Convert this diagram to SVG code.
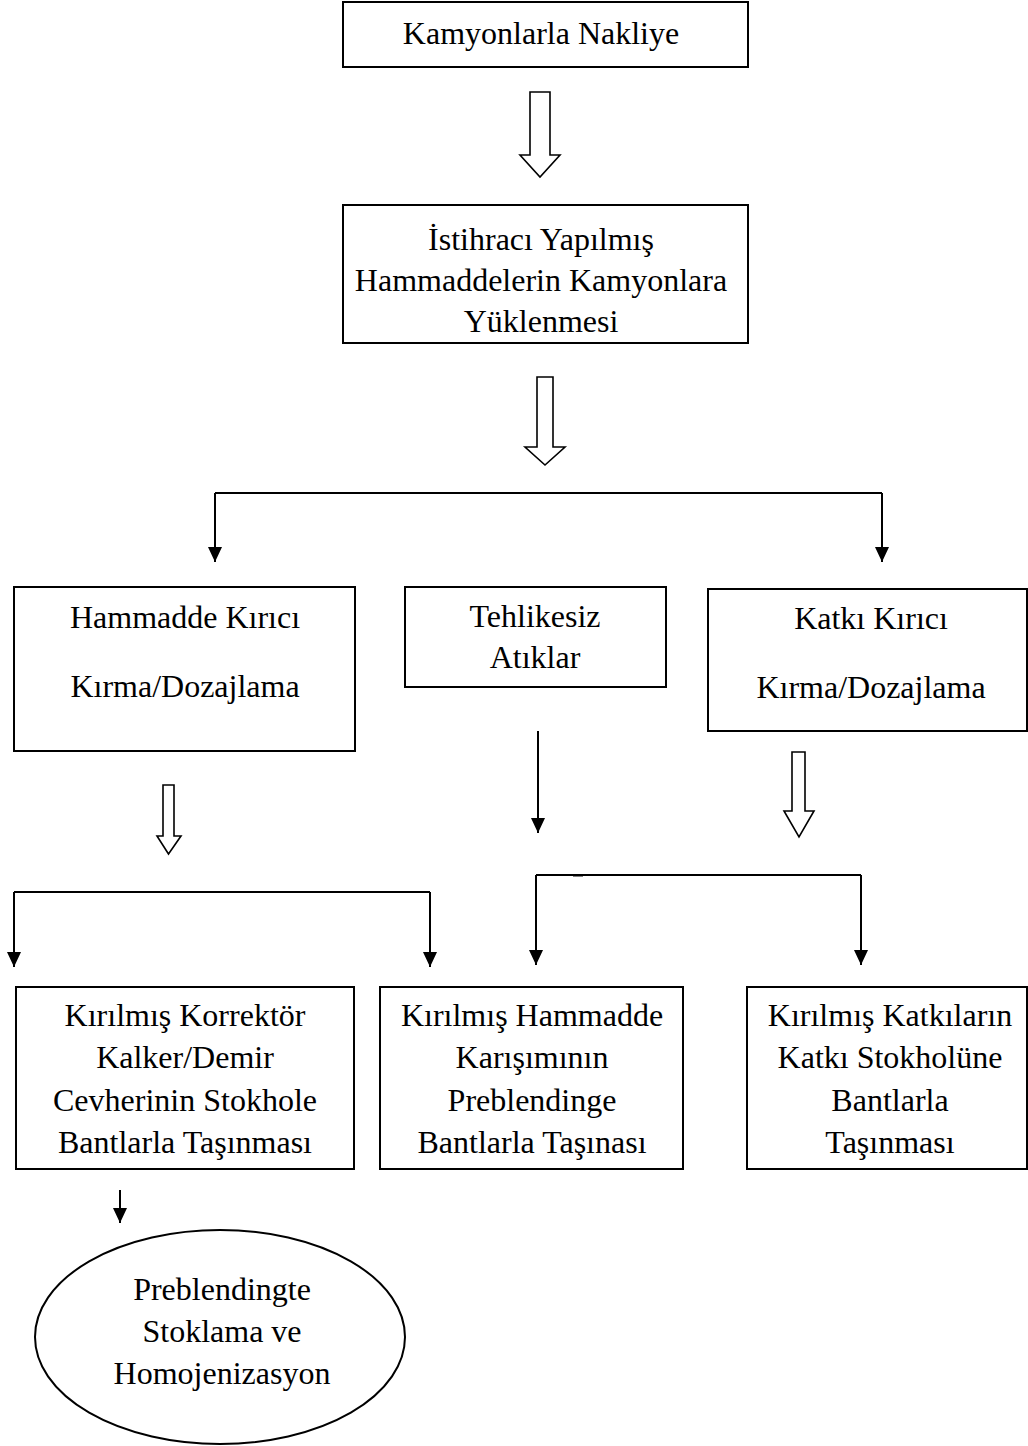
<svg xmlns="http://www.w3.org/2000/svg" width="1028" height="1446" viewBox="0 0 1028 1446">
<defs>
<style>
.box{fill:#fff;stroke:#000;stroke-width:2}
.t{font-family:"Liberation Serif","Times New Roman",serif;font-size:32px;fill:#000;text-anchor:middle}
.ln{fill:none;stroke:#000;stroke-width:2}
.hol{fill:#fff;stroke:#000;stroke-width:1.6;stroke-linejoin:miter}
</style>
<marker id="ah" markerUnits="userSpaceOnUse" markerWidth="16" markerHeight="16" refX="15" refY="7" orient="auto">
<path d="M0,0 L15,7 L0,14 z" fill="#000"/>
</marker>
</defs>
<rect width="1028" height="1446" fill="#fff"/>

<g id="n1">
<rect class="box" x="343" y="2" width="405" height="65"/>
<text class="t" x="541" y="44">Kamyonlarla Nakliye</text>
</g>

<g id="n2">
<rect class="box" x="343" y="205" width="405" height="138"/>
<text class="t" x="541" y="250">İstihracı Yapılmış</text>
<text class="t" x="541" y="291">Hammaddelerin Kamyonlara</text>
<text class="t" x="541" y="332">Yüklenmesi</text>
</g>

<g id="n3">
<rect class="box" x="14" y="587" width="341" height="164"/>
<text class="t" x="185" y="628">Hammadde Kırıcı</text>
<text class="t" x="185" y="697">Kırma/Dozajlama</text>
</g>

<g id="n4">
<rect class="box" x="405" y="587" width="261" height="100"/>
<text class="t" x="535" y="627">Tehlikesiz</text>
<text class="t" x="535" y="668">Atıklar</text>
</g>

<g id="n5">
<rect class="box" x="708" y="589" width="319" height="142"/>
<text class="t" x="871" y="629">Katkı Kırıcı</text>
<text class="t" x="871" y="698">Kırma/Dozajlama</text>
</g>

<g id="n6">
<rect class="box" x="16" y="987" width="338" height="182"/>
<text class="t" x="185" y="1026">Kırılmış Korrektör</text>
<text class="t" x="185" y="1068">Kalker/Demir</text>
<text class="t" x="185" y="1111">Cevherinin Stokhole</text>
<text class="t" x="185" y="1153">Bantlarla Taşınması</text>
</g>

<g id="n7">
<rect class="box" x="380" y="987" width="303" height="182"/>
<text class="t" x="532" y="1026">Kırılmış Hammadde</text>
<text class="t" x="532" y="1068">Karışımının</text>
<text class="t" x="532" y="1111">Preblendinge</text>
<text class="t" x="532" y="1153">Bantlarla Taşınası</text>
</g>

<g id="n8">
<rect class="box" x="747" y="987" width="280" height="182"/>
<text class="t" x="890" y="1026">Kırılmış Katkıların</text>
<text class="t" x="890" y="1068">Katkı Stokholüne</text>
<text class="t" x="890" y="1111">Bantlarla</text>
<text class="t" x="890" y="1153">Taşınması</text>
</g>

<g id="n9">
<ellipse class="box" cx="220" cy="1337" rx="185" ry="107"/>
<text class="t" x="222" y="1300">Preblendingte</text>
<text class="t" x="222" y="1342">Stoklama ve</text>
<text class="t" x="222" y="1384">Homojenizasyon</text>
</g>

<g id="connectors">
<polygon class="hol" points="530,92 550,92 550,155 560,155 540,177 520,155 530,155"/>
<polygon class="hol" points="537,377 553,377 553,447 565,447 545,465 525,447 537,447"/>
<polygon class="hol" points="163,785 174,785 174,836 181,836 168.5,854 157,836 163,836"/>
<polygon class="hol" points="792,752 805,752 805,811 814,811 799,837 784,811 792,811"/>

<path class="ln" d="M215,493 H882"/>
<path class="ln" d="M215,493 V562" marker-end="url(#ah)"/>
<path class="ln" d="M882,493 V562" marker-end="url(#ah)"/>

<path class="ln" d="M538,731 V833" marker-end="url(#ah)"/>

<path class="ln" d="M14,892 H430"/>
<path class="ln" d="M14,892 V967" marker-end="url(#ah)"/>
<path class="ln" d="M430,892 V967" marker-end="url(#ah)"/>

<path class="ln" d="M536,875 H861"/>
<path class="ln" d="M573,875.5 H583" stroke-width="3"/>
<path class="ln" d="M536,875 V965" marker-end="url(#ah)"/>
<path class="ln" d="M861,875 V965" marker-end="url(#ah)"/>

<path class="ln" d="M120,1190 V1223" marker-end="url(#ah)"/>
</g>
</svg>
